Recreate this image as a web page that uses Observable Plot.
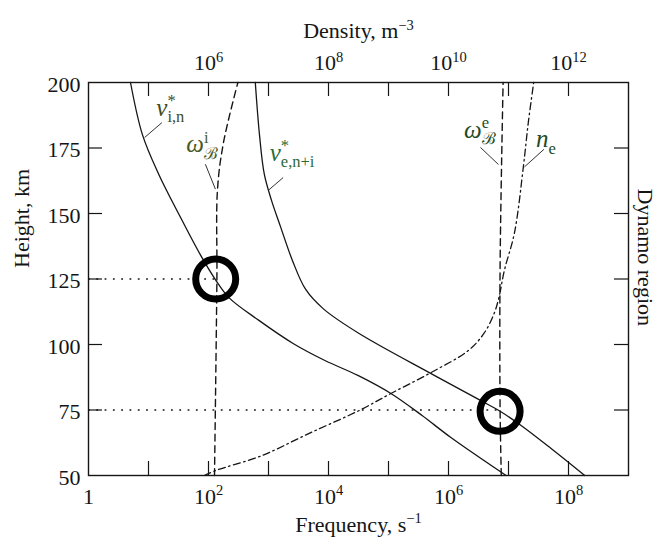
<!DOCTYPE html>
<html>
<head>
<meta charset="utf-8">
<script src="https://cdn.jsdelivr.net/npm/d3@7"></script>
<script src="https://cdn.jsdelivr.net/npm/@observablehq/plot@0.6"></script>
<style>
  html, body { margin: 0; padding: 0; background: #fff; }
  #chart { width: 667px; height: 547px; }
</style>
</head>
<body>
<div id="chart"></div>
<script>
// ---------- data ----------
const freqDomain = [1, 1e9];          // s^-1, log
const heightDomain = [50, 200];       // km
const densityPerFreq = 1e4;           // top axis: density 10^6 sits above frequency 10^2

// curves: [log10 frequency, height km]
const nuIonNeutral = [[0.70,200],[0.90,180],[1.17,165],[1.50,150],[1.87,134],[2.12,124.6],[2.34,117.9],[2.84,109.2],[3.41,100.4],[3.94,93.9],[4.49,88.2],[5.04,81.3],[5.56,72.9],[6.04,64.5],[6.96,50]];
const nuElectron   = [[2.78,200],[2.85,180],[2.93,165],[3.05,155],[3.20,145],[3.40,132],[3.62,121],[3.92,113.5],[4.51,104.2],[5.71,88.9],[6.54,78.6],[6.86,74.5],[7.21,69.1],[7.71,60.3],[8.27,50]];
const omegaIon     = [[2.49,200],[2.25,177.1],[2.15,159.2],[2.14,124.8],[2.10,50]];
const omegaElec    = [[6.91,200],[6.86,130],[6.86,75],[6.88,50]];
// electron density: [log10 density m^-3, height km]
const electronDensity = [[5.93,50],[6.12,51.9],[6.89,57.6],[7.67,66.0],[8.51,74.8],[9.04,81.3],[9.71,89.3],[10.33,97.7],[10.59,104.2],[10.76,111.8],[10.84,117.9],[10.93,128.2],[11.10,142.7],[11.25,168.3],[11.33,184.7],[11.42,200]];

const crossings = [{lf: 2.12, h: 125}, {lf: 6.86, h: 74.5}];
const guideLines = [{lf: 2.12, h: 125}, {lf: 6.86, h: 75}];

const freqTickExps = [1,2,3,4,5,6,7,8];
const bottomTickLabels = [{e:0,label:"1"},{e:2,label:"10^{2}"},{e:4,label:"10^{4}"},{e:6,label:"10^{6}"},{e:8,label:"10^{8}"}];
const topTickLabels = [{e:6,label:"10^{6}"},{e:8,label:"10^{8}"},{e:10,label:"10^{10}"},{e:12,label:"10^{12}"}];
const heightTicks = [75,100,125,150,175];
const heightTickLabels = [50,75,100,125,150,175,200];

const curveLabels = [
  {text:"ν^{*}_{i,n}",   lf:1.13, h:187.3, color:"#3e4c1c"},
  {text:"ω^{i}_{ℬ}",     lf:1.63, h:173.3, color:"#4a5a1e"},
  {text:"ν^{*}_{e,n+i}", lf:3.02, h:170.2, color:"#2d6b35"},
  {text:"ω^{e}_{ℬ}",     lf:6.26, h:179.0, color:"#1f4c24"},
  {text:"n_{e}",         lf:7.46, h:175.2, color:"#1f4c24"}
];
// leader lines: [lf1, h1, lf2, h2]
const leaders = [
  [1.224,184.7,0.935,179.0],
  [1.948,168.8,2.115,159.3],
  [3.244,163.7,3.005,159.0],
  [6.533,175.2,6.833,168.7],
  [7.591,174.5,7.267,167.8]
];

// ---------- helpers ----------
const byHeight = (a) => a.slice().sort((p, q) => p[1] - q[1]);
const F = (e) => Math.pow(10, e);
const serif = "'Liberation Serif', 'DejaVu Serif', serif";

function renderMarkup(root) {
  const NS = "http://www.w3.org/2000/svg";
  for (const t of root.querySelectorAll("text")) {
    const s = t.textContent;
    if (!/[\^_]\{/.test(s)) continue;
    const size = parseFloat(getComputedStyle(t).fontSize) || 20;
    const re = /([\^_])\{([^}]*)\}/g;
    const parts = []; let i = 0, m;
    while ((m = re.exec(s))) {
      if (m.index > i) parts.push({mode: "n", t: s.slice(i, m.index)});
      parts.push({mode: m[1] === "^" ? "sup" : "sub", t: m[2]});
      i = re.lastIndex;
    }
    if (i < s.length) parts.push({mode: "n", t: s.slice(i)});
    while (t.firstChild) t.removeChild(t.firstChild);
    let off = 0, prev = null;
    for (const p of parts) {
      const ts = document.createElementNS(NS, "tspan");
      const target = p.mode === "sup" ? -0.38 * size : p.mode === "sub" ? 0.25 * size : 0;
      ts.setAttribute("dy", (target - off).toFixed(2));
      off = target;
      if (p.mode !== "n") {
        ts.setAttribute("font-size", (0.66 * size).toFixed(1));
        ts.setAttribute("font-style", "normal");
      }
      ts.textContent = p.t;
      t.appendChild(ts);
      if (p.mode === "sub" && prev && prev.mode === "sup") {
        ts.setAttribute("dx", (-prev.el.getComputedTextLength()).toFixed(2));
      }
      prev = {mode: p.mode, el: ts};
    }
  }
}

// ---------- plot ----------
const frameW = 667 - 88 - 39, frameH = 547 - 82 - 72, tickLen = 14;
const ink = "#151515";
const fs = 22;

const chart = Plot.plot({
  width: 667,
  height: 547,
  marginLeft: 88,
  marginRight: 39,
  marginTop: 82,
  marginBottom: 72,
  style: {fontFamily: serif, background: "#fff", color: ink},
  x: {type: "log", domain: freqDomain, axis: null},
  y: {domain: heightDomain, axis: null},
  color: {type: "identity"},
  marks: [
    // inner ticks
    Plot.tickX(freqTickExps, {x: F, insetTop: frameH - tickLen, stroke: ink, strokeWidth: 1.2}),
    Plot.tickX(freqTickExps, {x: F, insetBottom: frameH - tickLen, stroke: ink, strokeWidth: 1.2}),
    Plot.tickY(heightTicks, {y: d => d, insetRight: frameW - tickLen, stroke: ink, strokeWidth: 1.2}),
    Plot.tickY(heightTicks, {y: d => d, insetLeft: frameW - tickLen, stroke: ink, strokeWidth: 1.2}),
    // dotted guides
    Plot.ruleY(guideLines, {y: "h", x1: freqDomain[0], x2: d => F(d.lf), stroke: ink, strokeWidth: 1.7, strokeDasharray: "1.8,6.5"}),
    // curves
    Plot.line(byHeight(nuIonNeutral), {x: d => F(d[0]), y: d => d[1], curve: "catmull-rom", stroke: ink, strokeWidth: 1.3}),
    Plot.line(byHeight(nuElectron), {x: d => F(d[0]), y: d => d[1], curve: "catmull-rom", stroke: ink, strokeWidth: 1.3}),
    Plot.line(byHeight(omegaIon), {x: d => F(d[0]), y: d => d[1], curve: "catmull-rom", stroke: ink, strokeWidth: 1.4, strokeDasharray: "7,4.5"}),
    Plot.line(byHeight(omegaElec), {x: d => F(d[0]), y: d => d[1], curve: "catmull-rom", stroke: ink, strokeWidth: 1.4, strokeDasharray: "7,4.5"}),
    Plot.line(byHeight(electronDensity), {x: d => F(d[0]) / densityPerFreq, y: d => d[1], curve: "catmull-rom", stroke: ink, strokeWidth: 1.3, strokeDasharray: "7,3.5,1.6,3.5"}),
    // crossing circles
    Plot.dot(crossings, {x: d => F(d.lf), y: "h", r: 20, stroke: "#000", strokeWidth: 7, fill: "none"}),
    // frame
    Plot.frame({stroke: ink, strokeWidth: 1.4}),
    // leader lines and curve labels
    Plot.link(leaders, {x1: d => F(d[0]), y1: d => d[1], x2: d => F(d[2]), y2: d => d[3], stroke: "#333", strokeWidth: 1}),
    Plot.text(curveLabels, {x: d => F(d.lf), y: "h", text: "text", fill: "color", textAnchor: "start", lineAnchor: "bottom", fontSize: 25, fontStyle: "italic"}),
    // tick labels
    Plot.text(bottomTickLabels, {x: d => F(d.e), frameAnchor: "bottom", dy: 28, text: "label", fontSize: fs, fill: ink}),
    Plot.text(topTickLabels, {x: d => F(d.e) / densityPerFreq, frameAnchor: "top", dy: -28, text: "label", fontSize: fs, fill: ink}),
    Plot.text(heightTickLabels, {y: d => d, frameAnchor: "left", dx: -8, dy: 2, textAnchor: "end", text: d => String(d), fontSize: fs, fill: ink}),
    // axis titles
    Plot.text(["Frequency, s^{−1}"], {frameAnchor: "bottom", dy: 56, text: d => d, fontSize: fs, fill: ink}),
    Plot.text(["Density, m^{−3}"], {frameAnchor: "top", dy: -60, text: d => d, fontSize: fs, fill: ink}),
    Plot.text(["Height, km"], {frameAnchor: "left", dx: -67, dy: -11, rotate: -90, text: d => d, fontSize: fs, fill: ink}),
    Plot.text(["Dynamo region"], {frameAnchor: "right", dx: 17, dy: 47, rotate: 90, text: d => d, fontSize: fs, fill: ink})
  ]
});

document.getElementById("chart").appendChild(chart);
renderMarkup(chart);
</script>
</body>
</html>
